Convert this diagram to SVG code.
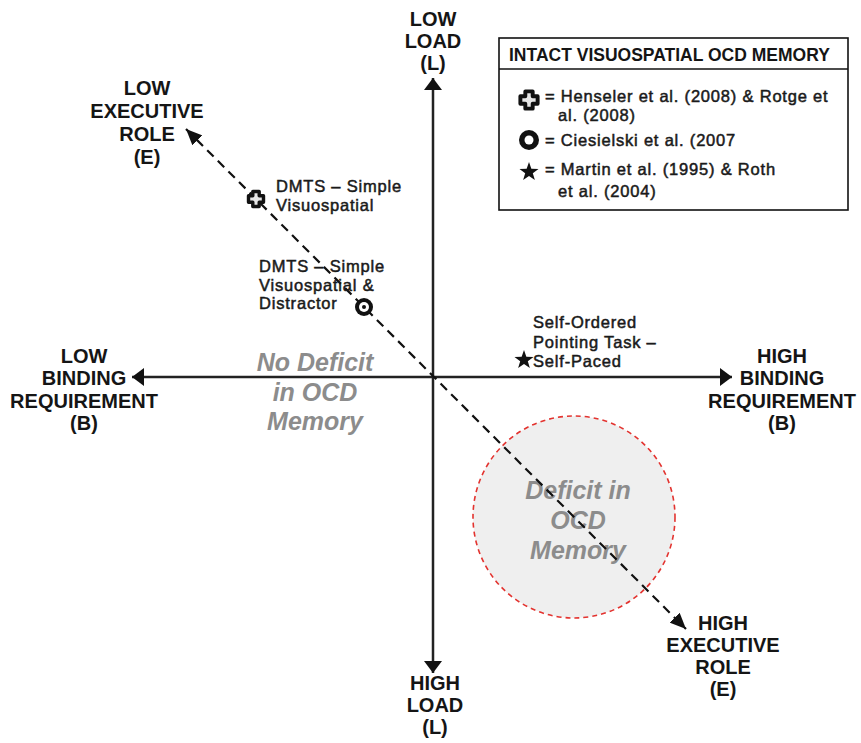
<svg xmlns="http://www.w3.org/2000/svg" width="861" height="743" viewBox="0 0 861 743">
<style>
.ax{font-family:"Liberation Sans",Arial,sans-serif;font-weight:bold;font-size:20px;fill:#151515;text-anchor:middle}
.lb{font-family:"Liberation Sans",Arial,sans-serif;font-size:16.5px;letter-spacing:0.8px;fill:#1a1a1a;stroke:#1a1a1a;stroke-width:0.5}
.gr{font-family:"Liberation Sans",Arial,sans-serif;font-weight:bold;font-style:italic;font-size:25px;fill:#8c8c8c;text-anchor:middle}
.axis{stroke:#222;stroke-width:2.5;fill:none}
.diag{stroke:#111;stroke-width:2.2;stroke-dasharray:9 6;fill:none}
</style>
<defs>
<marker id="ah" viewBox="0 0 12 18" refX="12" refY="9" markerWidth="12" markerHeight="18" orient="auto-start-reverse" markerUnits="userSpaceOnUse"><path d="M0,0 L12,9 L0,18 Z" fill="#111"/></marker>
<marker id="ahd" viewBox="0 0 16 14" refX="16" refY="7" markerWidth="16" markerHeight="14" orient="auto-start-reverse" markerUnits="userSpaceOnUse"><path d="M0,0 L16,7 L0,14 Z" fill="#111"/></marker>
<path id="plus" d="M-3.2,-7.5 H3.2 V-3.2 H7.5 V3.2 H3.2 V7.5 H-3.2 V3.2 H-7.5 V-3.2 H-3.2 Z" fill="#e6e6e6" stroke="#111" stroke-width="3.4" stroke-linejoin="round"/>
<path id="star" d="M0,-10 L2.35,-3.24 L9.51,-3.09 L3.8,1.24 L5.88,8.09 L0,4 L-5.88,8.09 L-3.8,1.24 L-9.51,-3.09 L-2.35,-3.24 Z" fill="#111"/>
</defs>
<rect width="861" height="743" fill="#fff"/>

<g id="deficit-region">
<circle cx="574" cy="517" r="101" fill="#efefef" stroke="#e3332f" stroke-width="1.6" stroke-dasharray="5 4"/>
<text class="gr" x="578" y="499">Deficit in</text>
<text class="gr" x="578" y="529">OCD</text>
<text class="gr" x="578" y="559">Memory</text>
</g>

<g id="no-deficit-region">
<text class="gr" x="315" y="371">No Deficit</text>
<text class="gr" x="315" y="401">in OCD</text>
<text class="gr" x="315" y="430">Memory</text>
</g>

<g id="connectors">
<line class="axis" x1="433" y1="78" x2="433" y2="673" marker-start="url(#ah)" marker-end="url(#ah)"/>
<line class="axis" x1="132" y1="377" x2="732" y2="377" marker-start="url(#ah)" marker-end="url(#ah)"/>
<line class="diag" x1="186" y1="129" x2="686" y2="629" marker-start="url(#ahd)" marker-end="url(#ahd)"/>
</g>

<g id="low-load">
<text class="ax" x="433" y="26">LOW</text>
<text class="ax" x="433" y="48">LOAD</text>
<text class="ax" x="433" y="70">(L)</text>
</g>
<g id="high-load">
<text class="ax" x="435" y="690">HIGH</text>
<text class="ax" x="435" y="712">LOAD</text>
<text class="ax" x="435" y="734">(L)</text>
</g>
<g id="low-executive">
<text class="ax" x="147" y="95">LOW</text>
<text class="ax" x="147" y="118">EXECUTIVE</text>
<text class="ax" x="147" y="141">ROLE</text>
<text class="ax" x="147" y="164">(E)</text>
</g>
<g id="high-executive">
<text class="ax" x="723" y="630">HIGH</text>
<text class="ax" x="723" y="652">EXECUTIVE</text>
<text class="ax" x="723" y="674">ROLE</text>
<text class="ax" x="723" y="696">(E)</text>
</g>
<g id="low-binding">
<text class="ax" x="84" y="363">LOW</text>
<text class="ax" x="84" y="385">BINDING</text>
<text class="ax" x="84" y="408">REQUIREMENT</text>
<text class="ax" x="84" y="430">(B)</text>
</g>
<g id="high-binding">
<text class="ax" x="782" y="363">HIGH</text>
<text class="ax" x="782" y="385">BINDING</text>
<text class="ax" x="782" y="408">REQUIREMENT</text>
<text class="ax" x="782" y="430">(B)</text>
</g>

<g id="dmts-simple">
<use href="#plus" x="256" y="199"/>
<text class="lb" x="276" y="192">DMTS – Simple</text>
<text class="lb" x="276" y="210.5">Visuospatial</text>
</g>
<g id="dmts-distractor">
<text class="lb" x="259" y="272">DMTS – Simple</text>
<text class="lb" x="259" y="290.5">Visuospatial &amp;</text>
<text class="lb" x="259" y="309">Distractor</text>
<circle cx="364" cy="307" r="9" fill="#111"/>
<circle cx="364" cy="307" r="5" fill="#fff"/>
<circle cx="364" cy="307" r="2" fill="#111"/>
</g>
<g id="self-ordered">
<use href="#star" x="524" y="360"/>
<text class="lb" x="533" y="328">Self-Ordered</text>
<text class="lb" x="533" y="347.5">Pointing Task –</text>
<text class="lb" x="533" y="367">Self-Paced</text>
</g>

<g id="legend">
<rect x="499" y="38" width="349" height="172" fill="#fff" stroke="#111" stroke-width="1.6"/>
<line x1="499" y1="69" x2="848" y2="69" stroke="#111" stroke-width="1.6"/>
<text x="509" y="61" style="font-family:'Liberation Sans',Arial,sans-serif;font-weight:bold;font-size:17.5px;fill:#151515">INTACT VISUOSPATIAL OCD MEMORY</text>
<use href="#plus" transform="translate(529,100) scale(1.15)"/>
<text class="lb" x="545" y="102">= Henseler et al. (2008) &amp; Rotge et</text>
<text class="lb" x="558" y="120.5">al. (2008)</text>
<circle cx="529" cy="140" r="10" fill="#111"/>
<circle cx="529" cy="140" r="4.5" fill="#fff"/>
<text class="lb" x="545" y="146">= Ciesielski et al. (2007</text>
<use href="#star" x="529" y="172"/>
<text class="lb" x="545" y="175">= Martin et al. (1995) &amp; Roth</text>
<text class="lb" x="558" y="197">et al. (2004)</text>
</g>
</svg>
